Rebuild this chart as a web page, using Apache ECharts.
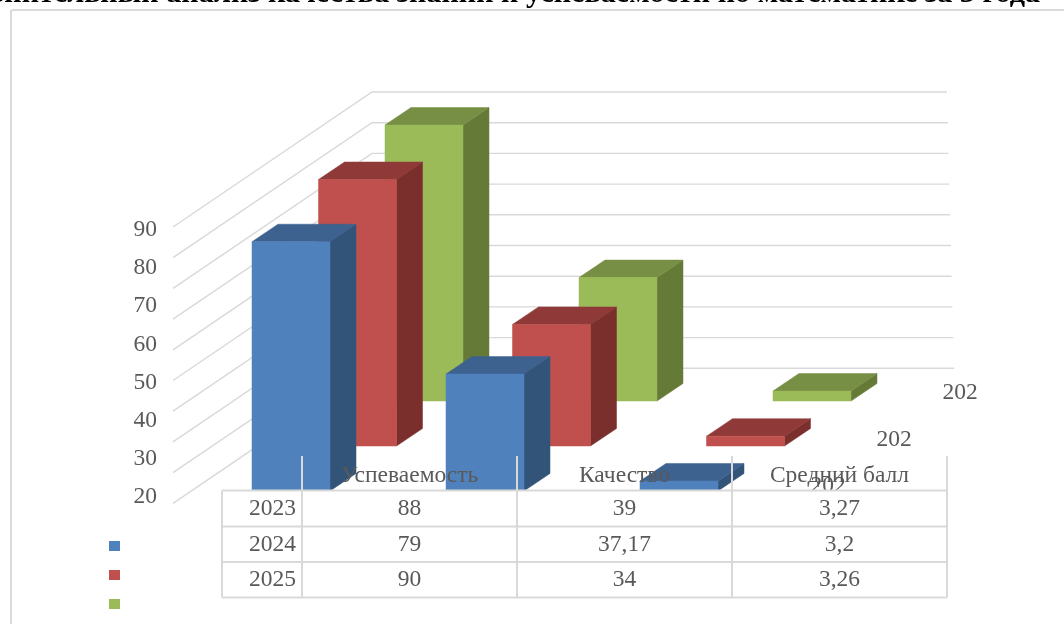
<!DOCTYPE html>
<html><head><meta charset="utf-8">
<style>html,body{margin:0;padding:0;background:#fff}#c{width:1064px;height:624px}</style>
<script src="https://cdn.jsdelivr.net/npm/echarts@6/dist/echarts.min.js"></script>
</head><body><div id="c"></div>
<script>
const titleText = 'Сравнительный анализ качества знаний и успеваемости по математике за 3 года';
const categories = ['Успеваемость', 'Качество', 'Средний балл'];
const years = ['2023', '2024', '2025'];
// bar heights (value-axis units of the back wall)
const bars2023 = [81.2, 38.1, 3.27];
const bars2024 = [86.8, 39.6, 3.2];
const bars2025 = [89.9, 40.2, 3.26];
// table contents as printed
const table2023 = ['88', '39', '3,27'];
const table2024 = ['79', '37,17', '3,2'];
const table2025 = ['90', '34', '3,26'];
const wallLevels = [10, 20, 30, 40, 50, 60, 70, 80, 90, 100];
const yTicksMin = 20, yTicksMax = 90, yTicksStep = 10;
const depthLabels = ['202', '202', '202'];

const SERIF = '"Liberation Serif","Times New Roman",serif';
const TEXT = '#595959', LINE = '#D9D9D9';
const palette = [
  {front: '#4F81BD', side: '#325479', top: '#3D6290'},
  {front: '#C0504D', side: '#7B2F2D', top: '#8F3A38'},
  {front: '#9BBB59', side: '#667A38', top: '#778F45'}
];
const G = {left: 194, top: 184, width: 582, height: 307};
const stepX = 66.5, stepY = -45, barW = 78, depX = 26, depY = -17.5;

function barRenderer(d) {
  const c = palette[d];
  return function (params, api) {
    const top = api.coord([api.value(0), api.value(1)]);
    const base = api.coord([api.value(0), 0]);
    const x0 = top[0] - barW / 2 + d * stepX, x1 = x0 + barW;
    const yt = top[1] + d * stepY, yb = base[1] + d * stepY;
    const poly = (points, fill) => ({type: 'polygon', shape: {points}, style: {fill, stroke: fill, lineWidth: 0.5}});
    return {type: 'group', children: [
      poly([[x1, yt], [x1 + depX, yt + depY], [x1 + depX, yb + depY], [x1, yb]], c.side),
      poly([[x0, yt], [x0 + depX, yt + depY], [x1 + depX, yt + depY], [x1, yt]], c.top),
      poly([[x0, yt], [x1, yt], [x1, yb], [x0, yb]], c.front)
    ]};
  };
}
function wallRenderer(params, api) {
  const v = api.value(0);
  const p = api.coord([0, v]);
  const endX = G.left + 753 + (100 - v) / 90 * 7;
  return {type: 'polyline', shape: {points: [
    [G.left - 21, p[1] + 43], [G.left + 178, p[1] - 92], [endX, p[1] - 92]
  ]}, style: {fill: null, stroke: LINE, lineWidth: 1.4}};
}
function barSeries(d, name, values) {
  return {type: 'custom', name, xAxisIndex: 0, yAxisIndex: 0, silent: true, animation: false,
    itemStyle: {color: palette[d].front}, encode: {x: 0, y: 1},
    renderItem: barRenderer(d), data: values.map((v, i) => [i, v])};
}

/* table + frame */
const colX = [222, 302, 517, 732, 947];
const rowY = [490.5, 526.5, 562, 597.5];
const headTop = 456;
const gfx = [];
const line = (x1, y1, x2, y2, z) => ({type: 'line', z: z || 102, silent: true,
  shape: {x1, y1, x2, y2}, style: {stroke: LINE, lineWidth: 2}});
const txt = (x, y, text, size, z, extra) => ({type: 'text', x, y, z: z || 103, silent: true,
  style: Object.assign({text, fill: TEXT, font: (size || 23.5) + 'px ' + SERIF, align: 'center', verticalAlign: 'middle'}, extra || {})});

gfx.push({type: 'rect', z: 100, silent: true,
  shape: {x: colX[0], y: rowY[0], width: colX[4] - colX[0], height: rowY[3] - rowY[0]}, style: {fill: '#fff'}});
gfx.push(line(12, 10, 1064, 10, 5), line(11, 10, 11, 624, 5));
rowY.forEach(y => gfx.push(line(colX[0], y, colX[4], y)));
gfx.push(line(colX[0], rowY[0], colX[0], rowY[3]));
colX.slice(1).forEach(x => gfx.push(line(x, headTop, x, rowY[3])));
categories.forEach((c, i) => gfx.push(txt((colX[i + 1] + colX[i + 2]) / 2, 476, c)));
[table2023, table2024, table2025].forEach((row, r) => {
  const cy = (rowY[r] + rowY[r + 1]) / 2 + 0.5;
  gfx.push(txt(296, cy, years[r], 23.5, 103, {align: 'right'}));
  row.forEach((v, i) => gfx.push(txt((colX[i + 1] + colX[i + 2]) / 2, cy, v)));
});
depthLabels.forEach((t, d) => gfx.push(txt(828 + d * 66, 486 - d * 46.5, t, 23.5, 50)));
gfx.push({type: 'text', x: 1040, y: 9.5, z: 60, silent: true,
  style: {text: titleText, fill: '#000', font: 'bold 30.2px ' + SERIF, align: 'right', verticalAlign: 'bottom'}});

const chart = echarts.init(document.getElementById('c'));
chart.setOption({
  animation: false,
  backgroundColor: '#fff',
  grid: [
    Object.assign({containLabel: false}, G),
    {left: 165, top: 230, width: 10, height: 267}
  ],
  xAxis: [
    {type: 'category', gridIndex: 0, data: categories, show: false},
    {type: 'category', gridIndex: 1, data: [''], show: false}
  ],
  yAxis: [
    {type: 'value', gridIndex: 0, min: 0, max: 100, interval: 10, show: false},
    {type: 'value', gridIndex: 1, min: yTicksMin, max: yTicksMax, interval: yTicksStep,
      axisLine: {show: false}, axisTick: {show: false}, splitLine: {show: false},
      axisLabel: {margin: 8, color: TEXT, fontFamily: SERIF, fontSize: 23.5}}
  ],
  legend: {
    left: 109, top: 541, orient: 'vertical', padding: 0, itemWidth: 11, itemHeight: 10, itemGap: 19,
    icon: 'rect', selectedMode: false, data: years, formatter: () => '',
    textStyle: {fontSize: 1}
  },
  graphic: {elements: gfx},
  series: [
    {type: 'custom', name: 'wall', silent: true, animation: false, xAxisIndex: 0, yAxisIndex: 0,
      renderItem: wallRenderer, encode: {y: 0}, data: wallLevels.map(v => [v])},
    barSeries(2, years[2], bars2025),
    barSeries(1, years[1], bars2024),
    barSeries(0, years[0], bars2023),
    {type: 'custom', name: 'ticks', silent: true, xAxisIndex: 1, yAxisIndex: 1,
      renderItem: () => ({type: 'group', children: []}), data: [[0, yTicksMin]]}
  ]
});
</script></body></html>
